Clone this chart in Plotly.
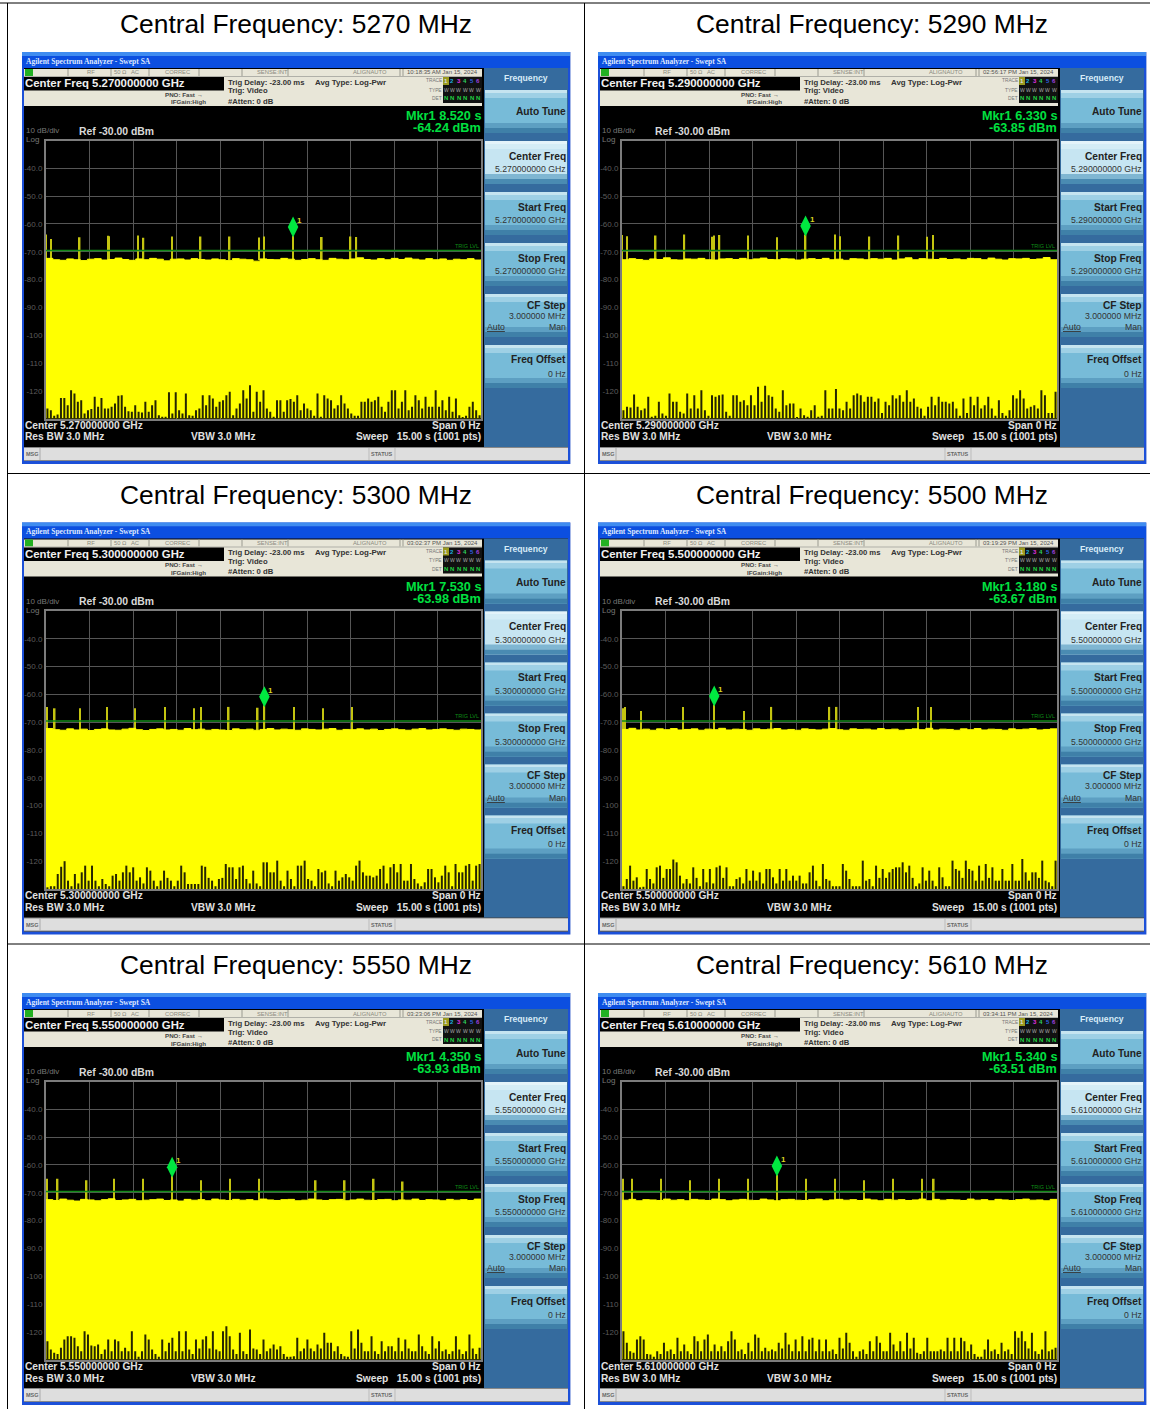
import numpy as np
import plotly.graph_objects as go

W, H = 1150, 1409
SWEEP_S = 15.0
REF_DB, BOTTOM_DB = -30, -130
TRIG_DB = -69.6
MARKER_LIFT_DB = 3.1

CENTRAL_MHZ = [5270, 5290, 5300, 5500, 5550, 5610]
CENTER_GHZ = ["5.270000000", "5.290000000", "5.300000000", "5.500000000", "5.550000000", "5.610000000"]
CLOCKS = ["10:18:35 AM", "02:56:17 PM", "03:02:37 PM", "03:19:29 PM", "03:23:06 PM", "03:34:11 PM"]
MKR_TIME = [8.520, 6.330, 7.530, 3.180, 4.350, 5.340]
MKR_DBM = [-64.24, -63.85, -63.98, -63.67, -63.93, -63.51]

Y_TICKS = [-40, -50, -60, -70, -80, -90, -100, -110, -120]
Y_LABELS = ["-40.0", "-50.0", "-60.0", "-70.0", "-80.0", "-90.0", "-100", "-110", "-120"]

# Burst times (s) and their peak levels (dBm)
BURST_T_0 = [0.0, 0.17, 1.16, 2.15, 2.17, 3.17, 3.36, 4.34, 5.33, 6.33, 7.34, 7.52, 8.52, 9.51, 10.50, 10.70]
BURST_DB_0 = [-63.8, -65.4, -64.8, -64.3, -64.4, -64.2, -65.0, -64.5, -64.5, -64.5, -64.9, -64.5, -64.24, -64.7, -64.5, -64.7]
BURST_T_1 = [0.0, 0.17, 1.16, 2.15, 3.13, 3.17, 3.36, 4.34, 5.34, 6.33, 7.34, 7.52, 8.53, 9.53, 10.52, 10.72]
BURST_DB_1 = [-64.0, -64.4, -64.2, -63.8, -64.6, -64.2, -64.0, -64.2, -64.8, -63.85, -63.8, -64.4, -64.5, -64.2, -64.6, -64.0]
BURST_T_2 = [0.03, 0.3, 1.17, 2.1, 3.07, 4.1, 5.1, 5.35, 6.3, 7.3, 7.53, 8.55, 9.55, 10.55]
BURST_DB_2 = [-64.5, -65.0, -65.0, -64.5, -65.0, -64.5, -65.0, -64.5, -64.5, -64.8, -63.98, -64.5, -65.0, -64.5]
BURST_T_3 = [0.03, 0.1, 0.65, 2.1, 3.18, 4.2, 5.15, 7.15, 7.4, 10.2, 10.65]
BURST_DB_3 = [-65.0, -64.5, -66.0, -64.5, -63.67, -66.0, -64.5, -64.5, -64.5, -64.5, -64.5]
BURST_T_4 = [0.03, 0.4, 1.4, 2.35, 3.35, 4.35, 5.35, 6.35, 7.35, 9.3, 10.3, 11.3, 12.3]
BURST_DB_4 = [-65.0, -65.0, -65.5, -65.0, -65.0, -63.93, -65.5, -65.0, -65.0, -65.5, -65.5, -65.0, -66.0]
BURST_T_5 = [0.03, 0.35, 1.35, 2.35, 3.35, 4.35, 5.34, 6.35, 7.35, 8.35, 9.35, 10.35, 10.75]
BURST_DB_5 = [-65.0, -65.0, -65.0, -65.5, -65.0, -65.0, -63.51, -65.0, -65.0, -65.5, -65.0, -65.0, -65.0]

# Upper edge of the noise band (dBm)
TOP_0 = [-72.4,-72.9,-73.1,-72.6,-72.9,-73.2,-72.7,-72.5,-73.0,-72.8,-72.3,-72.8,-73.1,-72.6,-72.9,-72.4,-72.7,-73.3,-72.7,-72.6,-73.0,-72.5,-72.8,-73.0,-72.6,-72.9,-73.2,-72.5,-72.7,-72.9,-73.4,-72.6,-72.8,-72.9,-72.4,-72.7,-73.1,-72.8,-72.5,-72.9,-73.1,-72.4,-72.7,-72.9,-72.6,-72.2,-72.8,-73.0,-72.5,-72.9,-72.4,-72.8,-72.3,-72.7,-73.0,-72.5,-72.9,-72.6,-73.1,-72.7,-72.9,-72.5,-73.0,-72.8]
TOP_1 = [-72.9,-72.5,-72.8,-73.1,-72.6,-72.8,-72.2,-72.9,-73.0,-72.6,-72.7,-72.4,-72.9,-73.0,-72.6,-72.5,-72.8,-72.4,-72.9,-72.6,-72.3,-72.8,-72.9,-72.5,-72.6,-73.0,-72.7,-72.5,-72.8,-72.4,-72.9,-72.7,-73.1,-72.5,-72.6,-72.9,-72.5,-72.7,-72.4,-73.0,-72.6,-72.2,-72.9,-72.5,-72.7,-72.8,-72.4,-72.8,-72.6,-72.9,-72.4,-72.5,-72.9,-72.3,-72.7,-73.0,-72.5,-72.6,-72.4,-72.8,-72.6,-72.1,-72.9,-72.7]
TOP_2 = [-72.3,-72.7,-72.9,-72.4,-72.8,-72.5,-73.0,-72.6,-72.4,-72.8,-72.9,-72.5,-72.2,-72.7,-73.0,-72.6,-72.4,-72.8,-72.6,-72.9,-72.3,-72.7,-72.5,-72.9,-72.6,-72.8,-73.0,-72.4,-72.7,-72.5,-72.9,-72.6,-72.3,-72.8,-72.5,-72.7,-72.9,-72.4,-72.6,-72.8,-72.5,-72.3,-72.9,-72.6,-72.7,-72.4,-72.8,-72.5,-73.0,-72.6,-72.4,-72.7,-72.9,-72.5,-72.3,-72.8,-72.6,-72.4,-72.7,-72.9,-72.5,-72.6,-72.8,-72.4]
TOP_3 = [-72.6,-72.2,-72.8,-72.5,-72.9,-72.4,-72.7,-72.3,-72.8,-72.6,-72.4,-72.9,-72.5,-72.7,-72.2,-72.8,-72.5,-72.6,-72.9,-72.4,-72.7,-72.5,-72.3,-72.8,-72.6,-72.9,-72.4,-72.6,-72.8,-72.5,-72.3,-72.7,-72.9,-72.4,-72.6,-72.5,-72.8,-72.3,-72.7,-72.5,-72.9,-72.6,-72.4,-72.7,-72.2,-72.8,-72.5,-72.6,-72.9,-72.4,-72.7,-72.3,-72.8,-72.5,-72.6,-72.9,-72.4,-72.7,-72.5,-72.3,-72.8,-72.6,-72.4,-72.7]
TOP_4 = [-72.5,-72.8,-72.3,-72.7,-73.0,-72.4,-72.6,-72.9,-72.5,-72.2,-72.8,-72.6,-72.4,-72.9,-72.7,-72.5,-72.3,-72.8,-72.6,-73.0,-72.4,-72.7,-72.5,-72.9,-72.3,-72.6,-72.8,-72.4,-72.7,-72.5,-72.9,-72.3,-72.6,-72.8,-72.5,-72.4,-72.9,-72.7,-72.3,-72.6,-72.8,-72.5,-72.4,-72.9,-72.6,-72.3,-72.7,-72.8,-72.5,-72.4,-72.9,-72.6,-72.7,-72.3,-72.8,-72.5,-72.6,-72.9,-72.4,-72.7,-72.5,-72.8,-72.3,-72.6]
TOP_5 = [-72.7,-72.4,-72.9,-72.5,-72.6,-72.8,-72.3,-72.7,-72.5,-72.9,-72.4,-72.6,-72.8,-72.3,-72.5,-72.9,-72.6,-72.4,-72.7,-72.8,-72.3,-72.6,-72.9,-72.5,-72.4,-72.7,-72.8,-72.5,-72.3,-72.9,-72.6,-72.4,-72.7,-72.5,-72.8,-72.3,-72.6,-72.9,-72.4,-72.7,-72.5,-72.8,-72.6,-72.3,-72.9,-72.4,-72.7,-72.5,-72.6,-72.8,-72.3,-72.7,-72.5,-72.9,-72.4,-72.6,-72.8,-72.5,-72.3,-72.7,-72.6,-72.9,-72.4,-72.5]

# Rise (dB) of the lower noise edge above the bottom graticule line
LOW_0 = [3.6,3,1,1.4,7.4,7.4,4.8,10.2,9,6,6.6,1.8,3,3.4,7.8,4.2,7.4,3.6,3.6,4.2,5.4,8.2,8.4,4.2,2.6,2.4,4.8,2.4,2.2,6,2.4,4.8,6.6,1.2,0.6,0.6,9.4,1.8,9.4,3,1.8,9,1.2,1,3,3.6,8.4,4.8,8.4,7.2,4.2,6,6.6,8.4,9.6,1.2,3.6,5.4,10.2,7.2,12,2.4,9.6,6,10.2,3.6,2.4,0.6,6.6,6.6,2.4,6.6,7,6,8.4,3,5.4,3.6,3,1,9,0.6,8.4,7.2,6.6,3.6,4.8,8.4,5.4,3.6,1.8,1,1,6,6,7.2,6,6.6,7.8,4.2,2.4,6,10.2,10.2,3.6,6,10.2,3,4.2,8.4,6.6,3.6,7.8,4.2,4.2,10.2,4.2,6.6,3,7.8,2.4,7.2,1.2,0.5,1,4.2,6,3,1.2]
LOW_1 = [3,4.2,4,8.6,4.2,3,3.6,7.8,0.6,1,6,1.8,1,9,6,6,2.4,1.8,9,3.6,8.4,3.6,10.2,3,1,8.4,7.8,8.4,8.6,2.4,1,8.4,8.4,6,6.6,4.8,8.4,4.8,11.4,6,11.8,8.4,7.8,3.6,2.4,10.2,4.8,5.4,5.4,0.5,3.6,1.2,0.6,3,4.8,0.6,1,10.2,3.6,3.6,10.6,3.6,3,6,3.6,8.4,9,8.4,6,7.8,7.8,6,7.2,2,6,4.8,8.4,7.2,8.4,6,10.2,6,7.2,4.2,3.6,1,4.2,7.8,4.8,7.8,6,6,5.4,6,3.6,1,7.2,2,7.8,4.8,7.8,3.6,4.8,7.8,3.6,1,6.6,2,1,3,8.4,7.2,10.2,7.2,3.6,4.2,4.8,3.6,10.2,8.4,2,2,9.6]
LOW_2 = [0.6,1,1,5.4,8,10,3,1,5.4,2,6,8.4,3,8.4,3,1,3.6,1.8,1,4.8,5.4,3,6,8.4,6,7.8,3,4.2,2,7.8,6.6,3,1,3,6.6,4,3,1,3,8.4,6,1.8,1.8,1.8,1.8,8.4,8,4,3,1,3.6,4,9,7.8,7.8,3.6,7.8,8.4,3.6,2,6.6,2,1,9.6,9.6,6,6,10.2,3,1,6.6,3.6,1,8.4,8.4,10.2,3.6,3,1,7.2,6,6.6,2,1,6.6,3,4.2,5.4,4.2,3,8.4,10.2,6,4.8,4.8,4.2,4.8,7.2,8.4,2,7.8,9,6,9,3,3,9,3.6,2,1,2.4,7.2,7.2,4.2,2.4,4.8,8.4,6,1,9,6,6,8.4,9,3,8.4,9]
LOW_3 = [1,3.6,8.4,3,4.2,0.6,0.8,7.2,3.6,2,7.8,8.4,4,7.2,7.2,10.6,9.6,4.8,2,3.6,2,7.8,4,1,7.2,2.4,7.2,2,7.8,8.4,4,7.8,1,1,3.6,4.2,2,7.2,3,6.6,3,6,2,7.2,7.2,4.2,2,7.2,3,7.2,3,4.8,3,4.8,2,2,6,8.4,3,1,9,3.6,3,1,1,1,9,6.6,3.6,1,1,1,10.2,3,3.6,1,8.4,4,7.2,4,6,7.2,7.8,7.8,9.6,6,8.4,4,1,2,7.8,3,6.6,3,1,7.8,4.2,1,1,10.2,7.2,6.6,4,10.2,7.2,6.6,3,8.4,3,9,4,7.8,3,3,7.2,3,3,9,3,3,10.8,6,3,6,6,4,10.2,3,2.4,1,10.2]
LOW_4 = [6.6,3.6,2.4,2,4.2,7.2,8.4,8.4,7.8,4.8,3,10.2,9,5,4.8,5.4,2,3.6,7.2,3,7.2,6.6,3,4.2,3,10.2,3,1,3,9,7.2,3.6,2,1,7.2,3,6,7.8,3,10.2,3,10.2,3.6,2,7.2,4,7.2,8.4,4,10.2,3.6,3,10.2,12,8.4,3.6,2,9.6,3,2,10.8,4,3.6,2,7.2,3,4,5.4,3.6,4.8,2,1,1,1.2,7.8,3,4,7.2,4,3,5.4,4,9.6,6,6,3,4.8,2,1.2,1,10.2,4,10.8,6,3,3,8.4,3,2,6.6,3,4.8,4.8,3,7.8,3,7.2,4,3,3,9,4.8,3,2,8.4,4,6.6,3,3.6,2,3,8.4,3.6,2,3,9,4,2,4.2]
LOW_5 = [10.2,6,3,2.4,7.2,8.4,7.2,2,1.8,1,3,2,6,3,3.6,2,7.8,3,5.4,3,2,8.4,6.6,3,7.2,9,3,5.4,3,4.8,3,6.6,10.2,7.2,3,3.6,2,6,3,9,7.8,3,4.2,3,3.6,3,6,4,9.6,5.4,3,7.2,3,8.4,3,7.2,7.8,3,7.2,3,7.2,3,3.6,2,7.8,4,9.6,6,3,1,3,3.6,2,6.6,3,8.4,6,3,3,9.6,5.4,3,6.6,3,9.6,4,7.8,2.4,2,3,7.8,3,3,3,3.6,3,7.8,3,7.8,3,7.8,6.6,3,5.4,2,1,1,3.6,7.2,3,3.6,2,6,3,3.6,2,10.2,7.8,10.2,6.6,4,9.6,3,2,3.6,10.2,3,3.6,4.2]

BURST_T = [BURST_T_0, BURST_T_1, BURST_T_2, BURST_T_3, BURST_T_4, BURST_T_5]
BURST_DB = [BURST_DB_0, BURST_DB_1, BURST_DB_2, BURST_DB_3, BURST_DB_4, BURST_DB_5]
TOPS = [TOP_0, TOP_1, TOP_2, TOP_3, TOP_4, TOP_5]
LOWS = [LOW_0, LOW_1, LOW_2, LOW_3, LOW_4, LOW_5]

COL_DX = [0, 576]
ROW_DY = [0, 470.5, 941]
FONT = "Liberation Sans"

shapes, annos = [], []


def px(x):
    return x / W


def py(y):
    return 1 - y / H


def rect(x0, y0, x1, y1, color):
    shapes.append(dict(type="rect", xref="paper", yref="paper", x0=px(x0), x1=px(x1), y0=py(y0), y1=py(y1),
                       fillcolor=color, line=dict(width=0), layer="below"))


def hline(x0, y0, x1, y1, color="#000", w=1):
    shapes.append(dict(type="line", xref="paper", yref="paper", x0=px(x0), x1=px(x1), y0=py(y0), y1=py(y1),
                       line=dict(color=color, width=w), layer="below"))


def text(x, y, s, size=8, color="#000", anchor="left", bold=False, family=FONT):
    annos.append(dict(xref="paper", yref="paper", x=px(x), y=py(y), text=f"<b>{s}</b>" if bold else s,
                      showarrow=False, xanchor=anchor, yanchor="middle", borderpad=0, borderwidth=0,
                      font=dict(size=size, color=color, family=family)))


def softkey(ox, oy, y0, y1, pale=False):
    main = "#c6e5f2" if pale else "#77bbd8"
    rect(ox + 485, oy + y0, ox + 567, oy + y1, main)
    rect(ox + 485, oy + y0, ox + 567, oy + y0 + 3, "#e4f4fa" if pale else "#c5e4f0")
    rect(ox + 485, oy + y0 + 3, ox + 567, oy + y0 + 8, "#d4edf6" if pale else "#9ed0e5")
    rect(ox + 485, oy + y1 - 10, ox + 567, oy + y1 - 5, "#7fb6d2" if pale else "#5d9fc2")
    rect(ox + 485, oy + y1 - 5, ox + 567, oy + y1, "#4a8bb2" if pale else "#3f80a8")


KEY = 10.2
VAL = 8.7
FOOT = 10.2


def panel_chrome(i, ox, oy):
    g = CENTER_GHZ[i]
    rect(ox + 22, oy + 52, ox + 570, oy + 464, "#1c50d8")
    rect(ox + 22, oy + 52, ox + 570, oy + 56, "#3f8cf0")
    rect(ox + 22, oy + 56, ox + 570, oy + 68, "#0c4fe0")
    rect(ox + 570, oy + 52, ox + 571, oy + 464, "#a6b8e8")
    text(ox + 26, oy + 61, "Agilent Spectrum Analyzer - Swept SA", 7.5, "#dfe8ff", bold=True, family="Liberation Serif")
    rect(ox + 24, oy + 68, ox + 568, oy + 461, "#000")
    # status strip
    rect(ox + 24, oy + 69, ox + 482, oy + 106, "#e8e6d8")
    rect(ox + 25, oy + 69, ox + 33, oy + 76, "#22b022")
    for cx in (68, 111, 149, 199, 242, 288, 400, 403):
        hline(ox + cx, oy + 69, ox + cx, oy + 76, "#9a9a90", 1)
    hline(ox + 24, oy + 76.5, ox + 482, oy + 76.5, "#b0b0a8", 1)
    for cx, s in [(91, "RF"), (120, "50 Ω"), (135, "AC"), (177, "CORREC"), (272, "SENSE:INT"), (370, "ALIGNAUTO")]:
        text(ox + cx, oy + 72.5, s, 5.8, "#8a8a80", "center")
    text(ox + 442, oy + 72.5, f"{CLOCKS[i]} Jan 15, 2024", 6, "#555", "center")
    rect(ox + 24, oy + 77, ox + 224, oy + 90.5, "#000")
    text(ox + 25, oy + 83.5, f"Center Freq {g} GHz", 11.4, "#f0f0f0", bold=True)
    text(ox + 203, oy + 94, "PNO: Fast &#8594;", 6.2, "#444", "right", True)
    text(ox + 206, oy + 102, "IFGain:High", 6.2, "#444", "right", True)
    text(ox + 228, oy + 82, "Trig Delay: -23.00 ms", 7.7, "#333", bold=True)
    text(ox + 228, oy + 91, "Trig: Video", 7.7, "#333", bold=True)
    text(ox + 228, oy + 101, "#Atten: 0 dB", 7.7, "#333", bold=True)
    text(ox + 315, oy + 82, "Avg Type: Log-Pwr", 7.9, "#333", bold=True)
    for yy, s in [(81, "TRACE"), (90, "TYPE"), (98.5, "DET")]:
        text(ox + 442, oy + yy, s, 4.8, "#777", "right")
    rect(ox + 443, oy + 77, ox + 482, oy + 103, "#111")
    rect(ox + 443, oy + 77, ox + 449, oy + 85, "#9a9a20")
    for k, c in enumerate(["#ddd", "#20b0e0", "#e030e0", "#30d060", "#3060e0", "#a040e0"]):
        text(ox + 446 + k * 6.4, oy + 81, str(k + 1), 6, c, "center", True)
        text(ox + 446 + k * 6.4, oy + 89.5, "W", 5, "#aaa", "center")
        text(ox + 446 + k * 6.4, oy + 98.5, "N", 6, "#20d040", "center", True)
    # marker readout
    text(ox + 481, oy + 116, f"Mkr1 {MKR_TIME[i]:.3f} s", 12.7, "#00e040", "right", True)
    text(ox + 481, oy + 128, f"{MKR_DBM[i]:.2f} dBm", 12.7, "#00e040", "right", True)
    text(ox + 26, oy + 130.5, "10 dB/div", 8, "#777")
    text(ox + 26, oy + 139.5, "Log", 8, "#777")
    text(ox + 79, oy + 131, "Ref -30.00 dBm", 10.4, "#d8d8d8", bold=True)
    # footer
    text(ox + 25, oy + 425, f"Center {g} GHz", FOOT, "#e0e0e0", bold=True)
    text(ox + 25, oy + 437, "Res BW 3.0 MHz", FOOT, "#e0e0e0", bold=True)
    text(ox + 191, oy + 437, "VBW 3.0 MHz", FOOT, "#e0e0e0", bold=True)
    text(ox + 481, oy + 425, "Span 0 Hz", FOOT, "#e0e0e0", "right", True)
    text(ox + 481, oy + 437, "Sweep&#160;&#160;&#160;15.00 s (1001 pts)", FOOT, "#e0e0e0", "right", True)
    # message strip
    rect(ox + 24, oy + 447, ox + 568, oy + 461, "#888")
    rect(ox + 24, oy + 448, ox + 568, oy + 460, "#dedede")
    hline(ox + 40, oy + 448, ox + 40, oy + 460, "#aaa", 1)
    hline(ox + 369, oy + 448, ox + 369, oy + 460, "#bbb", 1)
    hline(ox + 395, oy + 448, ox + 395, oy + 460, "#bbb", 1)
    text(ox + 32, oy + 454, "MSG", 5.5, "#666", "center", True)
    text(ox + 382, oy + 454, "STATUS", 5.5, "#666", "center", True)
    # soft keys
    rect(ox + 484, oy + 68, ox + 568, oy + 447, "#356b9e")
    text(ox + 526, oy + 78, "Frequency", 8.6, "#d8ecf8", "center", True)
    softkey(ox, oy, 90, 133)
    softkey(ox, oy, 141, 184, True)
    softkey(ox, oy, 192, 235)
    softkey(ox, oy, 243, 286)
    softkey(ox, oy, 294, 337)
    softkey(ox, oy, 345, 388)
    text(ox + 566, oy + 112, "Auto Tune", KEY, "#222", "right", True)
    text(ox + 566, oy + 156, "Center Freq", KEY, "#222", "right", True)
    text(ox + 566, oy + 169, f"{g} GHz", VAL, "#333", "right")
    text(ox + 566, oy + 207, "Start Freq", KEY, "#222", "right", True)
    text(ox + 566, oy + 220, f"{g} GHz", VAL, "#333", "right")
    text(ox + 566, oy + 258, "Stop Freq", KEY, "#222", "right", True)
    text(ox + 566, oy + 271, f"{g} GHz", VAL, "#333", "right")
    text(ox + 566, oy + 305, "CF Step", KEY, "#222", "right", True)
    text(ox + 566, oy + 315.5, "3.000000 MHz", VAL, "#333", "right")
    text(ox + 487, oy + 327, "<u>Auto</u>", VAL, "#333")
    text(ox + 566, oy + 327, "Man", VAL, "#333", "right")
    text(ox + 566, oy + 360, "Freq Offset", KEY, "#222", "right", True)
    text(ox + 566, oy + 373.5, "0 Hz", VAL, "#333", "right")


fig = go.Figure()
layout_axes = {}

for i in range(6):
    col, row = i % 2, i // 2
    ox, oy = COL_DX[col], ROW_DY[row]
    panel_chrome(i, ox, oy)
    text(ox + 295.5, oy + 24, f"Central Frequency: {CENTRAL_MHZ[i]} MHz", 26.4, "#000", "center")

    suffix = "" if i == 0 else str(i + 1)
    xa, ya = "x" + suffix, "y" + suffix
    layout_axes["xaxis" + suffix] = dict(
        domain=[px(ox + 46), px(ox + 481)], range=[0, SWEEP_S], anchor=ya, tick0=0, dtick=1.5,
        showticklabels=False, ticks="", gridcolor="#565656", gridwidth=1, zeroline=False,
        showline=True, mirror=True, linecolor="#7c7c7c", linewidth=2)
    layout_axes["yaxis" + suffix] = dict(
        domain=[py(oy + 418.5), py(oy + 140.5)], range=[BOTTOM_DB, REF_DB], anchor=xa,
        tickvals=Y_TICKS, ticktext=Y_LABELS, tickfont=dict(size=8, color="#5c5c5c", family=FONT),
        ticks="", gridcolor="#565656", gridwidth=1, zeroline=False,
        showline=True, mirror=True, linecolor="#7c7c7c", linewidth=2)

    top = np.array(TOPS[i])
    tt = np.linspace(0, SWEEP_S, len(top))
    fig.add_trace(go.Scatter(x=[0, SWEEP_S], y=[BOTTOM_DB, BOTTOM_DB], mode="lines", line=dict(width=0),
                             xaxis=xa, yaxis=ya, hoverinfo="skip"))
    fig.add_trace(go.Scatter(x=tt, y=top, mode="lines", line=dict(color="#ffff00", width=1, shape="hv"),
                             fill="tonexty", fillcolor="#ffff00", xaxis=xa, yaxis=ya, hoverinfo="skip"))
    burst_t, burst_db = np.array(BURST_T[i]), np.array(BURST_DB[i])
    fig.add_trace(go.Bar(x=burst_t, y=burst_db - TRIG_DB + 3.4, base=TRIG_DB - 3.4, width=0.055,
                         marker=dict(color="#c4c410", line=dict(width=0)), xaxis=xa, yaxis=ya, hoverinfo="skip"))
    # Lower noise edge: a vertical stroke up from the floor for each reading
    low = np.array(LOWS[i])
    lt = np.linspace(0.05, SWEEP_S - 0.05, len(low))
    nx, ny = [], []
    for t, r in zip(lt, low):
        nx += [t, t, None]
        ny += [BOTTOM_DB, BOTTOM_DB + r, None]
    fig.add_trace(go.Scatter(x=nx, y=ny, mode="lines", line=dict(color="rgba(8,8,0,0.88)", width=2),
                             connectgaps=False, xaxis=xa, yaxis=ya, hoverinfo="skip"))
    fig.add_trace(go.Scatter(x=[0, SWEEP_S], y=[TRIG_DB, TRIG_DB], mode="lines", line=dict(color="#118a18", width=1.5),
                             xaxis=xa, yaxis=ya, hoverinfo="skip"))
    fig.add_trace(go.Scatter(x=[MKR_TIME[i]], y=[MKR_DBM[i] + MARKER_LIFT_DB], mode="markers",
                             marker=dict(symbol="diamond-tall", size=15, color="#00e840", line=dict(width=0)),
                             xaxis=xa, yaxis=ya, hoverinfo="skip"))
    annos.append(dict(xref=xa, yref=ya, x=MKR_TIME[i], y=MKR_DBM[i] + MARKER_LIFT_DB, text="<b>1</b>", showarrow=False,
                      xshift=6.5, yshift=6.5, borderpad=0, font=dict(size=8, color="#d8d820", family=FONT)))
    annos.append(dict(xref=xa, yref=ya, x=SWEEP_S - 0.05, y=TRIG_DB + 0.3, text="TRIG LVL", showarrow=False,
                      xanchor="right", yanchor="bottom", borderpad=0,
                      font=dict(size=5.5, color="#0e8a16", family=FONT)))

# table rules
hline(0, 3, W, 3, "#000", 1)
hline(7.5, 3, 7.5, H, "#000", 1)
hline(584.5, 3, 584.5, H, "#000", 1)
hline(7, 473.5, W, 473.5, "#000", 1)
hline(7, 944, W, 944, "#000", 1)

fig.update_layout(width=W, height=H, margin=dict(l=0, r=0, t=0, b=0, pad=0), paper_bgcolor="#fff",
                  plot_bgcolor="#000", showlegend=False, barmode="overlay", shapes=shapes, annotations=annos,
                  **layout_axes)
fig.write_html("out.html", config=dict(displayModeBar=False),
               post_script="document.body.style.margin='0';document.body.style.overflow='hidden';")
